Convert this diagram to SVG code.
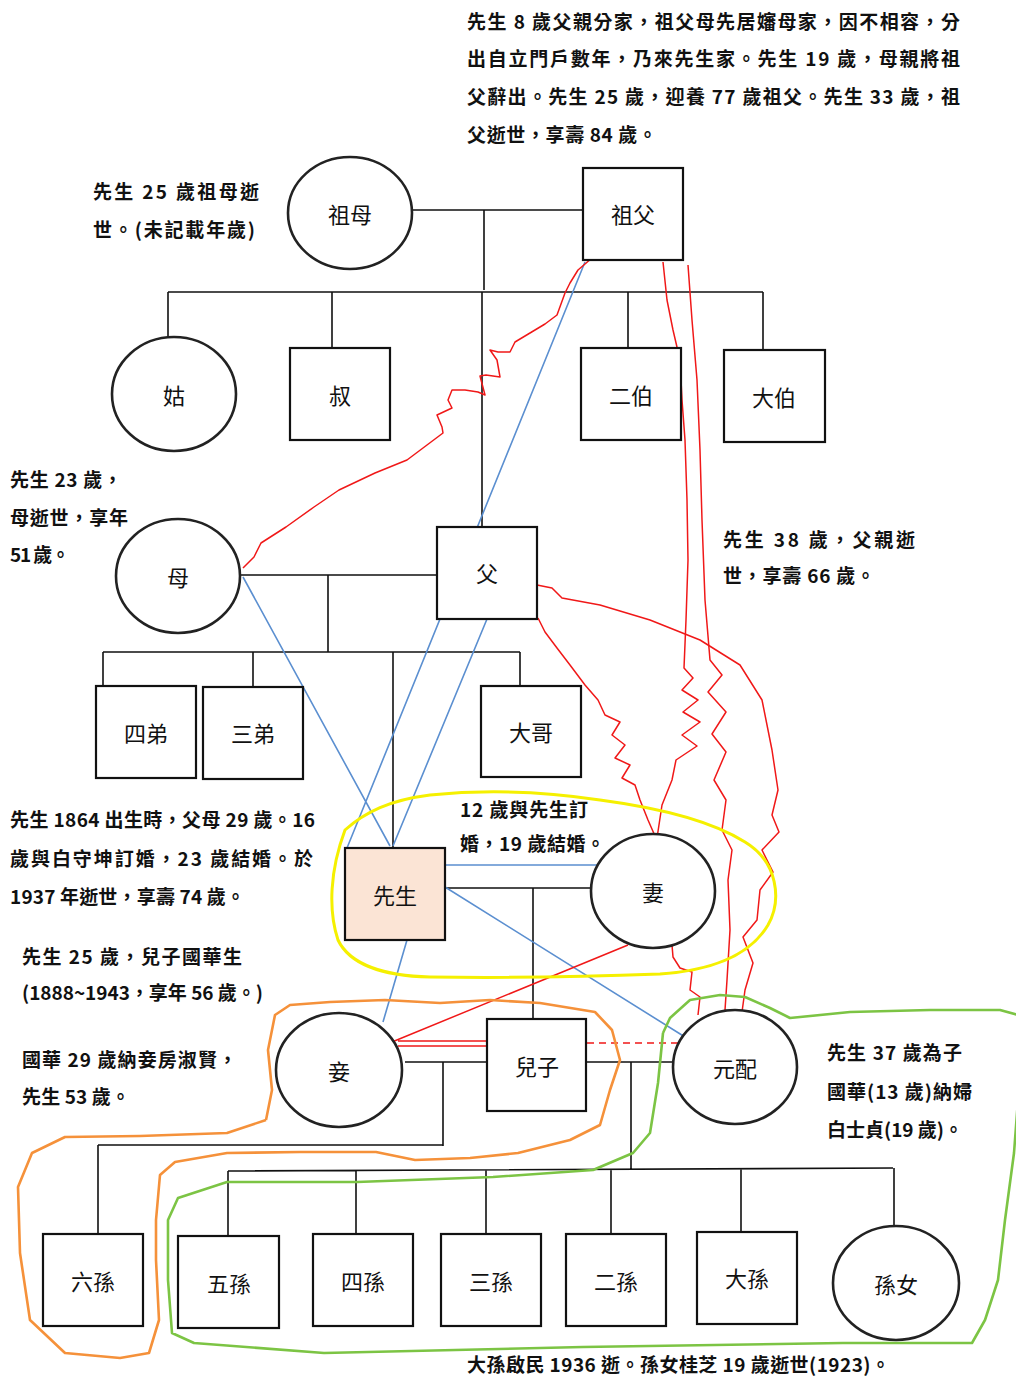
<svg xmlns="http://www.w3.org/2000/svg" width="1016" height="1380" viewBox="0 0 1016 1380">
<style>
.bx{fill:#fff;stroke:#111;stroke-width:2.2}
.ci{fill:#fff;stroke:#222;stroke-width:2.6}
.lb{font-family:"Noto Sans CJK TC","Noto Sans CJK SC",sans-serif;font-size:22px;fill:#111;text-anchor:middle;dominant-baseline:central}
.an{font-family:"Noto Sans CJK TC","Noto Sans CJK SC",sans-serif;font-size:19px;font-weight:bold;fill:#111}
.k{fill:none;stroke:#111;stroke-width:1.6}
.b{fill:none;stroke:#5b8fd0;stroke-width:1.6}
.r{fill:none;stroke:#f01818;stroke-width:1.5;stroke-linejoin:round}
.y{fill:none;stroke:#f5f000;stroke-width:3;stroke-linejoin:round}
.o{fill:none;stroke:#f5913a;stroke-width:2.6;stroke-linejoin:round}
.g{fill:none;stroke:#7cc444;stroke-width:2.6;stroke-linejoin:round}
</style>
<rect width="1016" height="1380" fill="#fff"/>

<g id="annotations">
<text class="an" x="467" y="29" textLength="493" lengthAdjust="spacing">先生 8 歲父親分家，祖父母先居嬸母家，因不相容，分</text>
<text class="an" x="467" y="66" textLength="493" lengthAdjust="spacing">出自立門戶數年，乃來先生家。先生 19 歲，母親將祖</text>
<text class="an" x="467" y="104" textLength="493" lengthAdjust="spacing">父辭出。先生 25 歲，迎養 77 歲祖父。先生 33 歲，祖</text>
<text class="an" x="467" y="142" textLength="190" lengthAdjust="spacing">父逝世，享壽 84 歲。</text>
<text class="an" x="93" y="199" textLength="166" lengthAdjust="spacing">先生 25 歲祖母逝</text>
<text class="an" x="93" y="237" textLength="162" lengthAdjust="spacing">世。(未記載年歲)</text>
<text class="an" x="10" y="487" textLength="112" lengthAdjust="spacing">先生 23 歲，</text>
<text class="an" x="10" y="525" textLength="118" lengthAdjust="spacing">母逝世，享年</text>
<text class="an" x="10" y="562" textLength="60" lengthAdjust="spacing">51 歲。</text>
<text class="an" x="723" y="547" textLength="192" lengthAdjust="spacing">先生 38 歲，父親逝</text>
<text class="an" x="723" y="583" textLength="152" lengthAdjust="spacing">世，享壽 66 歲。</text>
<text class="an" x="10" y="827" textLength="305" lengthAdjust="spacing">先生 1864 出生時，父母 29 歲。16</text>
<text class="an" x="10" y="866" textLength="303" lengthAdjust="spacing">歲與白守坤訂婚，23 歲結婚。於</text>
<text class="an" x="10" y="904" textLength="235" lengthAdjust="spacing">1937 年逝世，享壽 74 歲。</text>
<text class="an" x="460" y="817" textLength="128" lengthAdjust="spacing">12 歲與先生訂</text>
<text class="an" x="460" y="851" textLength="145" lengthAdjust="spacing">婚，19 歲結婚。</text>
<text class="an" x="22" y="964" textLength="220" lengthAdjust="spacing">先生 25 歲，兒子國華生</text>
<text class="an" x="22" y="1000" textLength="241" lengthAdjust="spacing">(1888~1943，享年 56 歲。)</text>
<text class="an" x="22" y="1067" textLength="215" lengthAdjust="spacing">國華 29 歲納妾房淑賢，</text>
<text class="an" x="22" y="1104" textLength="108" lengthAdjust="spacing">先生 53 歲。</text>
<text class="an" x="827" y="1060" textLength="135" lengthAdjust="spacing">先生 37 歲為子</text>
<text class="an" x="827" y="1099" textLength="145" lengthAdjust="spacing">國華(13 歲)納婦</text>
<text class="an" x="827" y="1137" textLength="136" lengthAdjust="spacing">白士貞(19 歲)。</text>
<text class="an" x="467" y="1372" textLength="423" lengthAdjust="spacing">大孫啟民 1936 逝。孫女桂芝 19 歲逝世(1923)。</text>
</g>

<g id="connectors">
<!-- black kinship lines -->
<path class="k" d="M412,210 H582 M484,210 V290 M168,292 H763 M168,292 V338 M332,292 V348 M628,292 V348 M763,292 V350 M482,292 V527"/>
<path class="k" d="M240,575 H437 M328,575 V652 M103,652 H520 M103,652 V686 M253,652 V687 M393,652 V848 M520,652 V686"/>
<path class="k" d="M445,888 H591 M533,888 V1019"/>
<path class="k" d="M405,1062 H487 M443,1062 V1146 M98,1145 H443 M98,1145 V1234"/>
<path class="k" d="M586,1062 H673 M631,1062 V1170 M228,1171 L893,1168 M228,1171 V1236 M356,1170 V1234 M486,1170 V1234 M611,1169 V1234 M741,1169 V1232 M894,1168 V1227"/>
<!-- blue lines -->
<path class="b" d="M585,262 L347,848 M487,619 L393,846 M243,577 L390,846 M407,940 L383,1022 M445,887 L685,1037 M444,865 H600"/>
<!-- red lines -->
<polyline class="r" points="592,258 578,270 570,283 565,293 557,315 545,324 530,333 515,342 510,352 498,352 490,350 497,360 500,377 486,375 480,376 485,395 478,392 465,390 452,390 448,400 452,408 437,415 442,427 443,433 427,445 407,460 375,473 339,490 314,507 286,527 261,543 254,557 243,568"/>
<polyline class="r" points="663,262 667,300 673,330 680,360 682,400 685,440 687,500 688,560 686,620 684,668 693,678 682,690 698,700 683,712 700,722 682,735 697,746 676,760 672,780 662,805 657,838"/>
<polyline class="r" points="688,265 692,320 697,380 700,450 702,520 705,600 710,660 722,675 708,692 726,712 712,734 726,752 714,780 726,800 722,830 732,850 728,880 730,930 727,980 725,1010"/>
<polyline class="r" points="537,585 552,588 562,598 600,605 650,620 700,640 740,665 762,700 772,750 778,790 772,815 779,832 762,850 773,872 760,890 757,920 743,937 753,963 745,990 742,1012"/>
<polyline class="r" points="538,618 545,632 557,648 570,665 585,685 598,700 605,715 620,722 612,735 625,745 615,758 630,765 622,778 635,785 640,800 648,820 655,836"/>
<polyline class="r" points="672,945 673,957 680,968 692,972 690,990 700,997 698,1015"/>
<path class="r" d="M392,1042 L628,945 M398,1041 H487 M398,1046 H487"/>
<path class="r" d="M587,1043 H682" stroke-dasharray="7,5"/>
<!-- group outlines -->
<path class="y" d="M345,830 C365,812 390,800 430,795 C480,790 540,791 600,800 C660,808 710,820 745,842 C778,862 782,900 768,925 C752,952 720,970 660,974 C580,977 500,978 430,977 C385,976 350,965 338,940 C328,910 330,870 345,830 Z"/>
<polyline class="o" points="266,1120 227,1133 140,1136 65,1137 32,1153 18,1187 20,1253 30,1320 65,1353 120,1358 149,1353 159,1320 156,1260 156,1220 160,1175 175,1162 227,1153 300,1152 376,1152 415,1160 470,1158 518,1153 570,1140 600,1125 610,1090 620,1060 612,1030 595,1012 540,1003 490,1000 440,1003 385,1000 330,1002 290,1005 275,1015 268,1050 272,1090 266,1120"/>
<polyline class="g" points="663,1033 670,1018 690,1000 720,995 745,997 770,1008 790,1018 850,1012 930,1010 1000,1010 1018,1015 1018,1100 1014,1153 1005,1220 998,1280 985,1320 972,1343 843,1343 583,1347 324,1353 194,1343 172,1333 168,1280 168,1220 178,1198 227,1182 357,1182 493,1177 593,1170 633,1153 650,1133 658,1083 663,1033"/>
</g>

<g id="n-zumu"><ellipse class="ci" cx="350" cy="213" rx="62" ry="56"/><text class="lb" x="350" y="213">祖母</text></g>
<g id="n-zufu"><rect class="bx" x="583" y="168" width="100" height="92"/><text class="lb" x="633" y="213">祖父</text></g>
<g id="n-gu"><ellipse class="ci" cx="174" cy="394" rx="62" ry="57"/><text class="lb" x="174" y="394">姑</text></g>
<g id="n-shu"><rect class="bx" x="290" y="348" width="100" height="92"/><text class="lb" x="340" y="394">叔</text></g>
<g id="n-erbo"><rect class="bx" x="581" y="348" width="100" height="92"/><text class="lb" x="631" y="394">二伯</text></g>
<g id="n-dabo"><rect class="bx" x="724" y="350" width="101" height="92"/><text class="lb" x="774" y="396">大伯</text></g>
<g id="n-mu"><ellipse class="ci" cx="178" cy="576" rx="62" ry="57"/><text class="lb" x="178" y="576">母</text></g>
<g id="n-fu"><rect class="bx" x="437" y="527" width="100" height="92"/><text class="lb" x="487" y="572">父</text></g>
<g id="n-sidi"><rect class="bx" x="96" y="686" width="100" height="92"/><text class="lb" x="146" y="732">四弟</text></g>
<g id="n-sandi"><rect class="bx" x="203" y="687" width="100" height="92"/><text class="lb" x="253" y="732">三弟</text></g>
<g id="n-dage"><rect class="bx" x="481" y="686" width="100" height="91"/><text class="lb" x="531" y="731">大哥</text></g>
<g id="n-xiansheng"><rect class="bx" x="345" y="848" width="100" height="92" style="fill:#fbe4d5"/><text class="lb" x="395" y="894">先生</text></g>
<g id="n-qi"><ellipse class="ci" cx="653" cy="891" rx="62" ry="57"/><text class="lb" x="653" y="891">妻</text></g>
<g id="n-qie"><ellipse class="ci" cx="339" cy="1070" rx="63" ry="57"/><text class="lb" x="339" y="1070">妾</text></g>
<g id="n-erzi"><rect class="bx" x="487" y="1019" width="99" height="92"/><text class="lb" x="537" y="1065">兒子</text></g>
<g id="n-yuanpei"><ellipse class="ci" cx="735" cy="1067" rx="62" ry="57"/><text class="lb" x="735" y="1067">元配</text></g>
<g id="n-liusun"><rect class="bx" x="43" y="1234" width="100" height="92"/><text class="lb" x="93" y="1280">六孫</text></g>
<g id="n-wusun"><rect class="bx" x="178" y="1236" width="101" height="92"/><text class="lb" x="229" y="1282">五孫</text></g>
<g id="n-sisun"><rect class="bx" x="313" y="1234" width="100" height="92"/><text class="lb" x="363" y="1280">四孫</text></g>
<g id="n-sansun"><rect class="bx" x="441" y="1234" width="100" height="92"/><text class="lb" x="491" y="1280">三孫</text></g>
<g id="n-ersun"><rect class="bx" x="566" y="1234" width="100" height="92"/><text class="lb" x="616" y="1280">二孫</text></g>
<g id="n-dasun"><rect class="bx" x="697" y="1232" width="100" height="92"/><text class="lb" x="747" y="1277">大孫</text></g>
<g id="n-sunnv"><ellipse class="ci" cx="896" cy="1283" rx="63" ry="57"/><text class="lb" x="896" y="1283">孫女</text></g>
</svg>
